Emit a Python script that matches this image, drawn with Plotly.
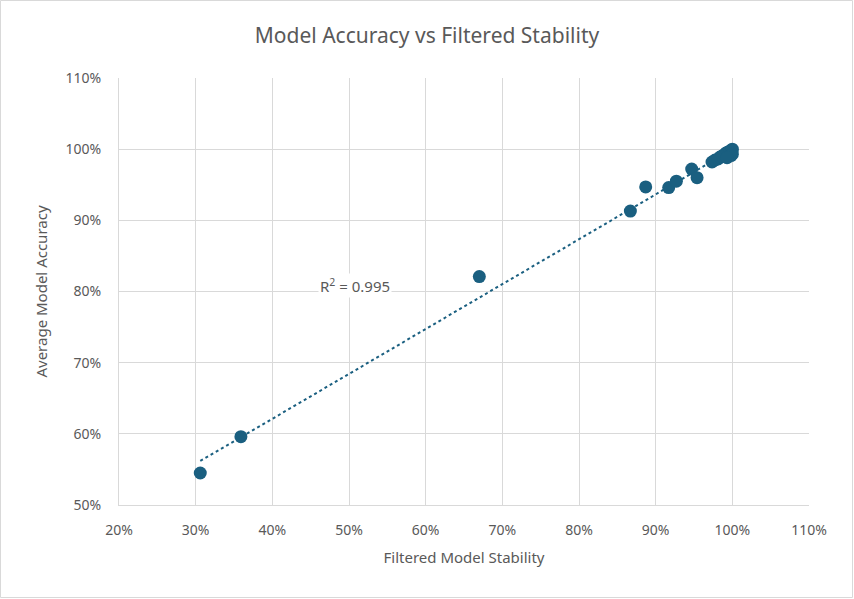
import numpy as np
import plotly.graph_objects as go

stability = [30.6, 35.9, 67.0, 86.7, 88.7, 91.7, 92.7, 94.7, 95.4,
             97.35, 97.75, 98.14, 98.40, 98.66, 98.92, 99.18, 99.44, 99.70, 99.96, 100.0,
             100.0, 99.83, 99.31]
accuracy = [54.5, 59.6, 82.1, 91.3, 94.7, 94.6, 95.5, 97.2, 96.0,
            98.20, 98.48, 98.62, 98.90, 99.04, 99.19, 99.47, 99.61, 99.75, 99.89, 100.0,
            99.3, 99.1, 98.8]
r2_label = "R<sup>2</sup> = 0.995"
x_ticks = [20, 30, 40, 50, 60, 70, 80, 90, 100, 110]
y_ticks = [50, 60, 70, 80, 90, 100, 110]

x = np.array(stability) / 100
y = np.array(accuracy) / 100
slope, intercept = np.polyfit(x, y, 1)
tx = np.array([x.min(), x.max()])
ty = slope * tx + intercept

color = "#1a5f80"
grid = "#d9d9d9"
txt = "#595959"
font = "Noto Sans"

W, H = 854, 599
ML, MR, MT, MB = 119, 45, 78, 94
PW, PH = W - ML - MR, H - MT - MB

fig = go.Figure()
fig.add_trace(go.Scatter(x=tx, y=ty, mode="lines",
                         line=dict(color=color, width=2, dash="dot"),
                         hoverinfo="skip", showlegend=False))
fig.add_trace(go.Scatter(x=x, y=y, mode="markers",
                         marker=dict(color=color, size=13),
                         showlegend=False))

fig.add_annotation(x=0.508, y=0.808, xref="x", yref="y", text=r2_label,
                   showarrow=False, bgcolor="white",
                   font=dict(family=font, size=15, color=txt))

# outer chart border
fig.add_shape(type="rect", xref="paper", yref="paper",
              x0=-(ML - 0.5) / PW, x1=1 + (MR - 1.5) / PW,
              y0=-(MB - 1.5) / PH, y1=1 + (MT - 0.5) / PH,
              line=dict(color=grid, width=1), layer="below")

fig.update_layout(
    width=W, height=H,
    paper_bgcolor="white", plot_bgcolor="white",
    margin=dict(l=ML, r=MR, t=MT, b=MB),
    title=dict(text="Model Accuracy vs Filtered Stability", x=0.5, xanchor="center",
               y=0.94, yanchor="middle",
               font=dict(family=font, size=21, color=txt)),
    xaxis=dict(range=[0.2, 1.1], tickvals=[v / 100 for v in x_ticks],
               ticktext=[f"{v}%" for v in x_ticks],
               showgrid=True, gridcolor=grid, gridwidth=1, zeroline=False,
               showline=True, linecolor=grid, linewidth=1,
               ticks="", ticklabelstandoff=12,
               tickfont=dict(family=font, size=14, color=txt),
               title=dict(text="Filtered Model Stability", standoff=14,
                          font=dict(family=font, size=15, color=txt))),
    yaxis=dict(range=[0.5, 1.1], tickvals=[v / 100 for v in y_ticks],
               ticktext=[f"{v}%" for v in y_ticks],
               showgrid=True, gridcolor=grid, gridwidth=1, zeroline=False,
               showline=True, linecolor=grid, linewidth=1,
               ticks="", ticklabelstandoff=14,
               tickfont=dict(family=font, size=14, color=txt),
               title=dict(text="Average Model Accuracy", standoff=14,
                          font=dict(family=font, size=15, color=txt))),
)

fig.write_html("out.html", config={"displayModeBar": False},
               post_script="document.body.style.margin='0';")
